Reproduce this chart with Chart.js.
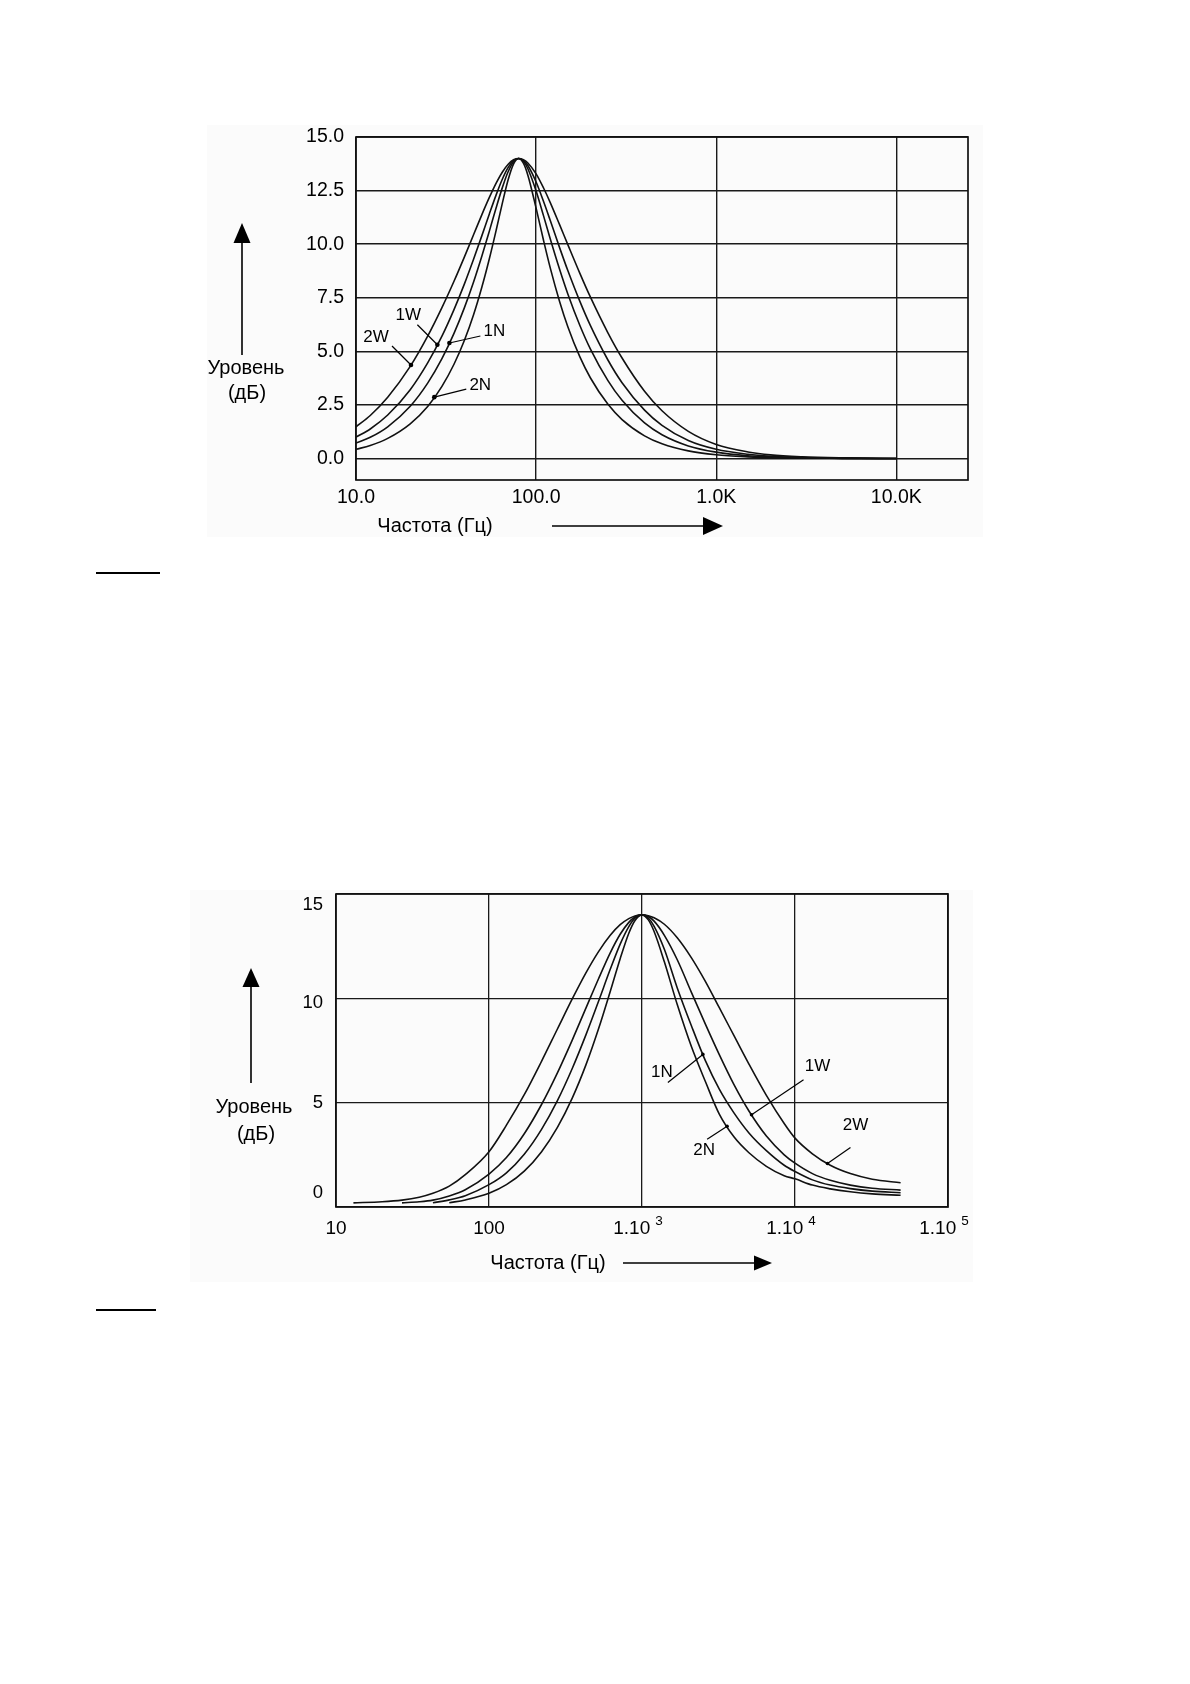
<!DOCTYPE html>
<html><head><meta charset="utf-8">
<script src="https://cdn.jsdelivr.net/npm/chart.js@4.4.1/dist/chart.umd.min.js"></script>
<style>
html,body{margin:0;padding:0;background:#fff;}
body{width:1190px;height:1684px;position:relative;overflow:hidden;}
.bg{position:absolute;background:#fbfbfb;}
canvas{position:absolute;left:0;}
.bar{position:absolute;height:2px;background:#000;}
</style></head><body>
<div class="bg" style="left:207px;top:125px;width:776px;height:412px"></div>
<div class="bg" style="left:190px;top:890px;width:783px;height:392px"></div>
<canvas id="c1" width="1190" height="590" style="top:0"></canvas>
<canvas id="c2" width="1190" height="700" style="top:600px"></canvas>
<div class="bar" style="left:96px;top:572px;width:64px"></div>
<div class="bar" style="left:96px;top:1309px;width:60px"></div>
<script>
const FONT = "'Liberation Sans', Arial, Helvetica, sans-serif";
Chart.defaults.font.family = FONT;
Chart.defaults.color = '#000';

// ---------- Chart 1 data ----------
const freq1 = [10,12,15,20,25,30,35,40,45,50,55,60,65,70,75,80,85,90,100,110,120,135,150,175,200,250,300,400,500,700,1000,1500,2000,3000,5000,10000];
const level1_2W = [1.48,2.01,2.86,4.30,5.71,7.04,8.27,9.41,10.45,11.38,12.18,12.85,13.37,13.73,13.94,14.0,13.94,13.79,13.28,12.62,11.93,10.91,9.98,8.64,7.54,5.88,4.69,3.14,2.23,1.27,0.66,0.31,0.17,0.08,0.03,0.0];
const level1_1W = [1.00,1.38,2.03,3.21,4.46,5.71,6.95,8.15,9.31,10.40,11.41,12.30,13.04,13.58,13.90,14.0,13.91,13.67,12.90,11.99,11.09,9.84,8.77,7.33,6.21,4.61,3.54,2.26,1.55,0.84,0.43,0.20,0.11,0.05,0.02,0.0];
const level1_1N = [0.72,0.99,1.48,2.44,3.52,4.66,5.84,7.04,8.25,9.45,10.61,11.70,12.65,13.39,13.85,14.0,13.87,13.52,12.48,11.32,10.23,8.83,7.68,6.21,5.12,3.65,2.72,1.66,1.11,0.59,0.30,0.13,0.08,0.03,0.01,0.0];
const level1_2N = [0.43,0.61,0.94,1.62,2.43,3.37,4.40,5.52,6.72,8.00,9.32,10.65,11.93,13.02,13.75,14.0,13.78,13.22,11.68,10.17,8.87,7.33,6.15,4.74,3.77,2.54,1.82,1.06,0.69,0.36,0.18,0.08,0.04,0.02,0.01,0.0];
const xTicks1 = [10,100,1000,10000];
const xTickLabels1 = ['10.0','100.0','1.0K','10.0K'];
const yTicks1 = [0,2.5,5,7.5,10,12.5,15];
const yTickLabels1 = ['0.0','2.5','5.0','7.5','10.0','12.5','15.0'];
const marks1 = [{name:'1W',f:28.3},{name:'2W',f:20.2},{name:'1N',f:33},{name:'2N',f:27.2}];

// ---------- Chart 2 data ----------
const freq2 = [13,20,27,35,43,55,70,100,130,170,220,280,350,430,520,620,720,820,900,1000,1100,1200,1400,1700,2100,2600,3200,4000,5000,6500,8500,10000,13000,17000,23000,32000,49000];
const level2_2W = [0.2,0.25,0.33,0.47,0.66,1.0,1.55,2.65,3.92,5.38,6.97,8.53,9.97,11.22,12.24,13.02,13.53,13.82,13.95,14.0,13.96,13.86,13.55,12.9,11.95,10.8,9.55,8.2,6.85,5.35,4.0,3.3,2.55,2.0,1.6,1.33,1.16];
const level2_1W = [null,null,0.2,0.25,0.33,0.53,0.83,1.58,2.37,3.51,4.90,6.43,8.00,9.53,10.94,12.18,13.07,13.64,13.90,14.0,13.92,13.7,13.02,11.85,10.3,8.75,7.3,5.85,4.6,3.4,2.5,2.1,1.6,1.28,1.05,0.9,0.81];
const level2_1N = [null,null,null,null,0.2,0.34,0.54,1.07,1.64,2.53,3.71,5.10,6.64,8.25,9.86,11.39,12.60,13.44,13.84,14.0,13.85,13.45,12.35,10.5,8.7,7.0,5.65,4.5,3.55,2.7,2.0,1.7,1.3,1.05,0.88,0.76,0.68];
const level2_2N = [null,null,null,null,null,0.2,0.34,0.66,1.07,1.72,2.64,3.82,5.22,6.81,8.54,10.33,11.90,13.12,13.73,14.0,13.76,13.2,11.75,9.7,7.7,6.0,4.45,3.35,2.6,1.95,1.5,1.35,1.05,0.87,0.73,0.63,0.56];
const xTicks2 = [10,100,1000,10000,100000];
const xTickBase2 = ['10','100','1.10','1.10','1.10'];
const xTickExp2 = ['','','3','4','5'];
const yTicks2 = [0,5,10,15];
const yTickLabels2 = ['0','5','10','15'];
const marks2 = [{name:'1N',f:2500},{name:'2N',f:3600},{name:'1W',f:5200},{name:'2W',f:16300}];

const series1 = [{name:'2W',vals:level1_2W},{name:'1W',vals:level1_1W},{name:'1N',vals:level1_1N},{name:'2N',vals:level1_2N}];
const series2 = [{name:'2W',vals:level2_2W},{name:'1W',vals:level2_1W},{name:'1N',vals:level2_1N},{name:'2N',vals:level2_2N}];

// label placement (pixel offsets from the marked point)
const markStyle1 = {'1W':{line:[-20,-20],text:[-29,-29]}, '2W':{line:[-19,-19],text:[-35,-28]}, '1N':{line:[31,-7],text:[45,-12]}, '2N':{line:[32,-8],text:[46,-12]}};
const markStyle2 = {'1N':{line:[-35,28],text:[-41,18]}, '2N':{line:[-20,13],text:[-23,24]}, '1W':{line:[52,-35],text:[66,-48]}, '2W':{line:[23,-16],text:[28,-38]}};
// vertical nudge of chart-2 y labels (px), as in the original drawing
const yLabelShift2 = [-14, 0, 5, 11];

function mk(freqs, vals){ return freqs.map((f,i)=>({x:f,y:vals[i]})).filter(p=>p.y!==null); }
function interp(freqs, vals, f){
  for(let i=0;i<freqs.length-1;i++){
    if(vals[i]===null||vals[i+1]===null) continue;
    if(f>=freqs[i] && f<=freqs[i+1]){
      const t=(Math.log(f)-Math.log(freqs[i]))/(Math.log(freqs[i+1])-Math.log(freqs[i]));
      return vals[i]+t*(vals[i+1]-vals[i]);
    }
  }
  return null;
}
function arrow(ctx,x1,y1,x2,y2,hl,hw){
  const ang=Math.atan2(y2-y1,x2-x1);
  const bx=x2-hl*Math.cos(ang), by=y2-hl*Math.sin(ang);
  ctx.beginPath(); ctx.moveTo(x1,y1); ctx.lineTo(bx,by); ctx.lineWidth=1.6; ctx.strokeStyle='#000'; ctx.stroke();
  ctx.beginPath(); ctx.moveTo(x2,y2);
  ctx.lineTo(bx+hw/2*Math.sin(ang), by-hw/2*Math.cos(ang));
  ctx.lineTo(bx-hw/2*Math.sin(ang), by+hw/2*Math.cos(ang));
  ctx.closePath(); ctx.fillStyle='#000'; ctx.fill();
}
function drawMarks(chart, marks, series, freqs, style, dotR){
  const ctx=chart.ctx, xs=chart.scales.x, ys=chart.scales.y;
  marks.forEach(m=>{
    const s=series.find(q=>q.name===m.name);
    const v=interp(freqs,s.vals,m.f);
    const px=xs.getPixelForValue(m.f), py=ys.getPixelForValue(v);
    const st=style[m.name];
    ctx.beginPath(); ctx.moveTo(px,py); ctx.lineTo(px+st.line[0],py+st.line[1]);
    ctx.lineWidth=1.2; ctx.strokeStyle='#000'; ctx.stroke();
    ctx.beginPath(); ctx.arc(px,py,dotR,0,Math.PI*2); ctx.fillStyle='#000'; ctx.fill();
    ctx.font='17px '+FONT; ctx.textAlign='center'; ctx.textBaseline='middle';
    ctx.fillText(m.name, px+st.text[0], py+st.text[1]);
  });
}

const deco1 = {id:'deco1', afterDraw(chart){
  const ctx=chart.ctx, a=chart.chartArea;
  ctx.save();
  ctx.strokeStyle='#111'; ctx.lineWidth=1.7;
  ctx.strokeRect(a.left,a.top,a.right-a.left,a.bottom-a.top);
  drawMarks(chart, marks1, series1, freq1, markStyle1, 2.3);
  ctx.fillStyle='#000'; ctx.font='20px '+FONT; ctx.textAlign='center'; ctx.textBaseline='middle';
  ctx.fillText('Частота (Гц)', 435, 526);
  ctx.fillText('Уровень', 246, 368);
  ctx.fillText('(дБ)', 247, 393);
  arrow(ctx,552,526,723,526,20,18);
  arrow(ctx,242,355,242,223,20,17);
  ctx.restore();
}};

const deco2 = {id:'deco2', afterDraw(chart){
  const ctx=chart.ctx, a=chart.chartArea, xs=chart.scales.x, ys=chart.scales.y;
  ctx.save();
  ctx.strokeStyle='#111'; ctx.lineWidth=1.7;
  ctx.strokeRect(a.left,a.top,a.right-a.left,a.bottom-a.top);
  drawMarks(chart, marks2, series2, freq2, markStyle2, 1.8);
  ctx.fillStyle='#000'; ctx.textBaseline='middle';
  // y tick labels
  ctx.font='18.5px '+FONT; ctx.textAlign='right';
  yTicks2.forEach((v,i)=>{ ctx.fillText(yTickLabels2[i], a.left-13, ys.getPixelForValue(v)+yLabelShift2[i]); });
  // x tick labels with exponents
  xTicks2.forEach((v,i)=>{
    const px=xs.getPixelForValue(v);
    ctx.font='19px '+FONT; const bw=ctx.measureText(xTickBase2[i]).width;
    ctx.font='13.5px '+FONT; const ew=xTickExp2[i]?ctx.measureText(xTickExp2[i]).width+5:0;
    const x0=px-(bw+ew)/2 - (xTickExp2[i]?4:0);
    ctx.textAlign='left';
    ctx.font='19px '+FONT; ctx.fillText(xTickBase2[i], x0, a.bottom+22);
    if(xTickExp2[i]){ ctx.font='13.5px '+FONT; ctx.fillText(xTickExp2[i], x0+bw+5, a.bottom+14); }
  });
  ctx.font='20px '+FONT; ctx.textAlign='center';
  ctx.fillText('Частота (Гц)', 548, 663);
  ctx.fillText('Уровень', 254, 507);
  ctx.fillText('(дБ)', 256, 534);
  arrow(ctx,623,663,772,663,18,15);
  arrow(ctx,251,483,251,368,19,17);
  ctx.restore();
}};

function dsets(series, freqs){
  return series.map(s=>({label:s.name, data:mk(freqs,s.vals), borderColor:'#111', borderWidth:1.6,
    pointRadius:0, cubicInterpolationMode:'monotone', fill:false}));
}

new Chart(document.getElementById('c1'), {
  type:'line',
  data:{datasets:dsets(series1,freq1)},
  options:{
    responsive:false, animation:false, devicePixelRatio:1,
    layout:{padding:{top:137,right:222,left:0,bottom:0}},
    plugins:{legend:{display:false},tooltip:{enabled:false}},
    scales:{
      x:{type:'logarithmic',min:10,max:25000,
        afterFit:s=>{s.height=110;},
        afterBuildTicks:s=>{s.ticks=xTicks1.map(v=>({value:v}));},
        ticks:{callback:(v,i)=>xTickLabels1[i],font:{size:19.5},padding:6,maxRotation:0,autoSkip:false,color:'#000'},
        grid:{color:'#1a1a1a',lineWidth:1.4,drawTicks:false},border:{display:false}},
      y:{min:-1,max:15,
        afterFit:s=>{s.width=356;},
        afterBuildTicks:s=>{s.ticks=yTicks1.map(v=>({value:v}));},
        ticks:{callback:(v,i)=>yTickLabels1[i],font:{size:19.5},padding:12,autoSkip:false,color:'#000'},
        grid:{color:'#1a1a1a',lineWidth:1.4,drawTicks:false},border:{display:false}}
    }
  },
  plugins:[deco1]
});

new Chart(document.getElementById('c2'), {
  type:'line',
  data:{datasets:dsets(series2,freq2)},
  options:{
    responsive:false, animation:false, devicePixelRatio:1,
    layout:{padding:{top:294,right:242,left:0,bottom:0}},
    plugins:{legend:{display:false},tooltip:{enabled:false}},
    scales:{
      x:{type:'logarithmic',min:10,max:100000,
        afterFit:s=>{s.height=93;},
        afterBuildTicks:s=>{s.ticks=xTicks2.map(v=>({value:v}));},
        ticks:{display:false},
        grid:{color:'#1a1a1a',lineWidth:1.3,drawTicks:false},border:{display:false}},
      y:{min:0,max:15,
        afterFit:s=>{s.width=336;},
        afterBuildTicks:s=>{s.ticks=yTicks2.map(v=>({value:v}));},
        ticks:{display:false},
        grid:{color:'#1a1a1a',lineWidth:1.3,drawTicks:false},border:{display:false}}
    }
  },
  plugins:[deco2]
});
</script>
</body></html>
